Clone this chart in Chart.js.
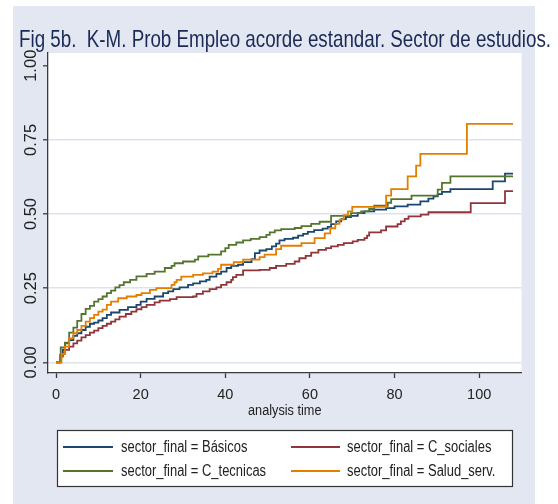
<!DOCTYPE html>
<html><head><meta charset="utf-8">
<script src="https://cdn.jsdelivr.net/npm/chart.js@4.4.1/dist/chart.umd.min.js"></script>
<style>html,body{margin:0;padding:0;background:#fff;} #wrap{width:558px;height:504px;position:relative}</style>
</head><body><div id="wrap"><canvas id="c" width="558" height="504"></canvas></div>
<script>
const titleText = 'Fig 5b.  K-M. Prob Empleo acorde estandar. Sector de estudios.';
const xTitle = 'analysis time';
const seriesLabels = ['sector_final = Básicos', 'sector_final = C_sociales', 'sector_final = C_tecnicas', 'sector_final = Salud_serv.'];
const seriesColors = ['#1a476f', '#90353b', '#55752f', '#e37e00'];
const xTicks = [0, 20, 40, 60, 80, 100];
const yTicks = [0, 0.25, 0.5, 0.75, 1];

const basicosT = [0, 1, 1.6, 2.1, 3.1, 4.1, 5, 6, 7, 8, 9, 10, 11, 12, 13, 15, 17, 19, 20, 21.4, 23.3, 25.3, 26.5, 27.7, 29.2, 31.2, 32.4, 34, 35.5, 36.3, 37.9, 39, 40.3, 41.4, 43, 44.2, 46.2, 47, 48.1, 49.7, 51, 52, 52.8, 54, 56, 57.2, 58.4, 59.5, 61, 63, 64.2, 65, 66.2, 67.4, 68.5, 69.7, 71.3, 72.9, 75.2, 78, 80, 83.1, 86.1, 88, 89.2, 90.2, 91.2, 93.2, 103.2, 106.1, 108];
const basicosF = [0, 0.025, 0.042, 0.064, 0.075, 0.089, 0.098, 0.109, 0.12, 0.13, 0.134, 0.141, 0.149, 0.16, 0.168, 0.177, 0.186, 0.194, 0.205, 0.214, 0.222, 0.233, 0.239, 0.247, 0.253, 0.261, 0.266, 0.273, 0.278, 0.289, 0.298, 0.306, 0.318, 0.325, 0.329, 0.338, 0.348, 0.368, 0.377, 0.382, 0.391, 0.4, 0.411, 0.416, 0.42, 0.427, 0.433, 0.44, 0.446, 0.451, 0.457, 0.466, 0.475, 0.483, 0.49, 0.494, 0.503, 0.509, 0.515, 0.52, 0.526, 0.532, 0.543, 0.552, 0.56, 0.567, 0.575, 0.584, 0.61, 0.636, 0.636];

const socialesT = [0, 1.1, 1.6, 2.1, 3.1, 4.1, 5, 6, 7, 8, 9, 10, 11, 12, 13, 14, 15, 16.5, 17.8, 19, 20.2, 21.4, 23.3, 24.5, 26.9, 28.5, 32.4, 33.2, 34.7, 36.3, 37.9, 39, 40.3, 41.4, 41.8, 42.6, 44.2, 48.1, 50.5, 52, 54.4, 56.4, 57.5, 59, 60.3, 62, 63.8, 65, 66.6, 68, 70.1, 71.3, 72.9, 73.5, 74, 76.8, 78, 80.7, 81.5, 82.4, 83.3, 86.2, 88, 98, 106.1, 108];
const socialesF = [0, 0.019, 0.03, 0.042, 0.053, 0.064, 0.073, 0.084, 0.092, 0.10, 0.107, 0.115, 0.123, 0.13, 0.137, 0.145, 0.154, 0.163, 0.171, 0.179, 0.186, 0.194, 0.202, 0.208, 0.213, 0.22, 0.222, 0.231, 0.239, 0.247, 0.253, 0.261, 0.27, 0.278, 0.287, 0.295, 0.31, 0.312, 0.318, 0.325, 0.332, 0.34, 0.351, 0.359, 0.37, 0.379, 0.385, 0.391, 0.396, 0.402, 0.408, 0.413, 0.419, 0.427, 0.438, 0.445, 0.458, 0.466, 0.475, 0.484, 0.492, 0.498, 0.506, 0.537, 0.577, 0.577];

const tecnicasT = [0, 1.1, 2.1, 3.1, 4.1, 5, 6, 7, 8, 9, 10, 11, 12, 13, 14, 15, 16, 17.5, 19, 21.4, 23.3, 25.7, 27.3, 28, 30, 32.8, 33.6, 36, 39, 40, 40.8, 42.6, 44.2, 46, 48.1, 49.7, 50.5, 51.7, 53.2, 56.4, 58, 60.3, 62.3, 65, 69.7, 72.1, 74, 75.2, 78.4, 79.2, 84, 90.2, 91.2, 93.2, 108];
const tecnicasF = [0, 0.05, 0.066, 0.10, 0.117, 0.14, 0.163, 0.18, 0.19, 0.205, 0.213, 0.222, 0.233, 0.242, 0.253, 0.26, 0.27, 0.278, 0.29, 0.298, 0.306, 0.318, 0.325, 0.334, 0.34, 0.346, 0.357, 0.363, 0.374, 0.385, 0.396, 0.404, 0.411, 0.416, 0.422, 0.43, 0.438, 0.445, 0.449, 0.453, 0.459, 0.467, 0.474, 0.494, 0.503, 0.509, 0.517, 0.528, 0.538, 0.55, 0.562, 0.582, 0.605, 0.627, 0.627];

const saludT = [0, 1.3, 2.1, 3.1, 4.1, 5, 6, 7, 8, 9, 10, 11, 12, 13, 14.7, 16.7, 19, 20.2, 22.2, 23.7, 27.3, 28, 28.5, 29.6, 32.4, 34.7, 37, 38.3, 39, 42, 44.2, 48.1, 49.3, 52, 53.2, 58, 61.1, 63.5, 64.8, 66, 67, 68, 69, 70, 78, 79.2, 83.1, 85.1, 86.1, 97.1, 108];
const saludF = [0, 0.028, 0.053, 0.081, 0.098, 0.109, 0.123, 0.137, 0.149, 0.16, 0.171, 0.178, 0.194, 0.205, 0.216, 0.222, 0.227, 0.233, 0.244, 0.25, 0.261, 0.27, 0.278, 0.289, 0.295, 0.30, 0.306, 0.315, 0.329, 0.338, 0.346, 0.355, 0.363, 0.382, 0.393, 0.402, 0.419, 0.435, 0.452, 0.467, 0.481, 0.496, 0.509, 0.524, 0.562, 0.584, 0.627, 0.663, 0.703, 0.804, 0.804];

const REGULAR = '"Liberation Sans", Arial, sans-serif';
const BG = '#e3e7f1';
const GRID = '#dce2ee';
const INK = '#222222';
const AXIS = '#3a3a3a';
const CONDENSE = 0.82;

const series = [[basicosT, basicosF], [socialesT, socialesF], [tecnicasT, tecnicasF], [saludT, saludF]];

const datasets = series.map(([T, F], i) => ({
  label: seriesLabels[i],
  data: T.map((t, k) => ({x: t, y: F[k]})),
  borderColor: seriesColors[i],
  backgroundColor: seriesColors[i],
  borderWidth: 1.8,
  pointRadius: 0,
  fill: false,
  stepped: true,
  order: 3 - i
}));

// draw horizontally condensed text (emulates a narrow typeface)
function condText(ctx, text, x, y, size, sx, align, baseline, color) {
  ctx.save();
  ctx.font = size + 'px ' + REGULAR;
  ctx.fillStyle = color;
  ctx.textAlign = align;
  ctx.textBaseline = baseline;
  ctx.translate(x, y);
  ctx.scale(sx, 1);
  ctx.fillText(text, 0, 0);
  ctx.restore();
}

const decor = {
  id: 'decor',
  beforeDraw(chart) {
    const {ctx, chartArea: a} = chart;
    ctx.save();
    ctx.fillStyle = '#ffffff';
    ctx.fillRect(0, 0, chart.width, chart.height);
    ctx.fillStyle = BG;
    ctx.fillRect(13, 6, 522, 498);
    ctx.fillStyle = '#ffffff';
    ctx.fillRect(a.left, a.top, a.right - a.left, a.bottom - a.top);
    ctx.restore();
  },
  afterDraw(chart) {
    const {ctx, chartArea: a} = chart;
    ctx.save();
    // title, stretched to its span in the reference
    ctx.font = '24px ' + REGULAR;
    const tw = ctx.measureText(titleText).width;
    condText(ctx, titleText, 19, 46.5, 24, 532 / tw, 'left', 'alphabetic', '#1b2a55');
    // x-axis title
    condText(ctx, xTitle, (a.left + a.right) / 2, 415, 15.5, CONDENSE, 'center', 'alphabetic', INK);
    // legend
    const bx = 57.5, by = 430.5, bw = 455, bh = 56;
    ctx.fillStyle = '#ffffff';
    ctx.fillRect(bx, by, bw, bh);
    ctx.strokeStyle = '#333333';
    ctx.lineWidth = 1.2;
    ctx.strokeRect(bx, by, bw, bh);
    const rows = [447, 471];
    const lineX = [[63, 113], [291, 340]];
    const textX = [121, 347];
    chart.data.datasets.forEach((ds, i) => {
      const r = Math.floor(i / 2), c = i % 2;
      ctx.strokeStyle = ds.borderColor;
      ctx.lineWidth = 1.8;
      ctx.beginPath();
      ctx.moveTo(lineX[c][0], rows[r]);
      ctx.lineTo(lineX[c][1], rows[r]);
      ctx.stroke();
      condText(ctx, ds.label, textX[c], rows[r] + 0.5, 15.8, CONDENSE, 'left', 'middle', INK);
    });
    ctx.restore();
  }
};

new Chart(document.getElementById('c'), {
  type: 'line',
  data: {datasets},
  options: {
    responsive: false,
    animation: false,
    devicePixelRatio: 1,
    layout: {padding: {left: 19, top: 53, right: 36.5, bottom: 84}},
    plugins: {legend: {display: false}, title: {display: false}, tooltip: {enabled: false}},
    scales: {
      x: {
        type: 'linear', min: -1.9, max: 110,
        afterBuildTicks: s => { s.ticks = xTicks.map(v => ({value: v})); },
        afterFit: s => { s.height = 47; },
        ticks: {font: {family: REGULAR, size: 14.5}, color: INK, padding: 8, maxRotation: 0, autoSkip: false},
        grid: {drawOnChartArea: false, drawTicks: true, tickLength: 5, tickColor: AXIS, tickWidth: 1.3},
        border: {display: true, color: AXIS, width: 1.3},
        title: {display: false}
      },
      y: {
        type: 'linear', min: -0.036, max: 1.043,
        afterBuildTicks: s => { s.ticks = yTicks.map(v => ({value: v})); },
        afterFit: s => { s.width = 29; },
        ticks: {font: {family: REGULAR, size: 16.5}, color: INK, minRotation: 90, maxRotation: 90, crossAlign: 'center', padding: -5, autoSkip: false,
          callback: v => Number(v).toFixed(2)},
        grid: {color: c => (c.tick && c.tick.value === 1) ? 'rgba(0,0,0,0)' : GRID, lineWidth: 1.6, drawTicks: true, tickLength: 5, tickColor: AXIS, tickWidth: 1.3},
        border: {display: true, color: AXIS, width: 1.3}
      }
    }
  },
  plugins: [decor]
});
</script>
</body></html>
